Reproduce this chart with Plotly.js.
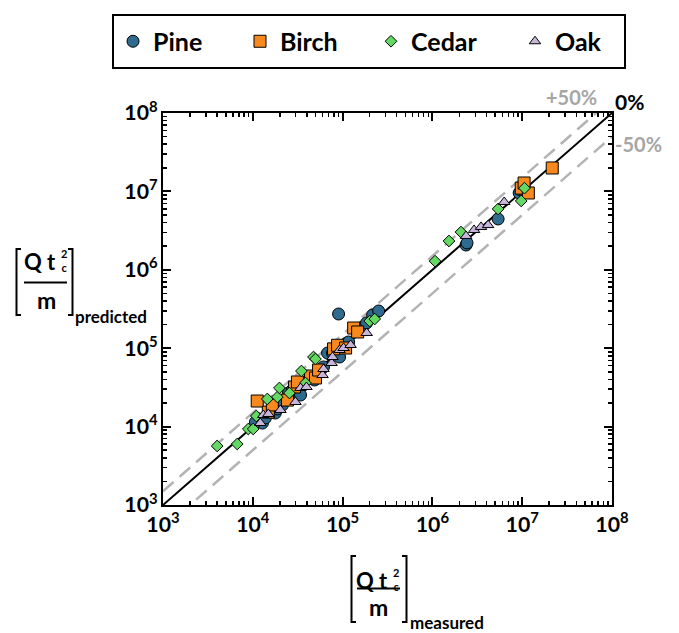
<!DOCTYPE html>
<html>
<head>
<meta charset="utf-8">
<script src="https://cdn.plot.ly/plotly-3.0.1.min.js"></script>
<style>html,body{margin:0;padding:0;background:#fff;}#chart{width:679px;height:633px;}</style>
</head>
<body>
<div id="chart"></div>
<script>
// ---- data (measured, predicted) ----
var seriesNames = ['Pine', 'Birch', 'Cedar', 'Oak'];

var pineMeasured = [11800, 12800, 13800, 10700, 17800, 18800, 20800, 21400, 24900, 26900, 27600, 34000, 48700, 52600, 56800, 61300, 68000, 77300, 87900, 92500, 110900, 116700, 167000, 185000, 216000, 252000, 90200, 2370000, 2430000, 5390000, 9250000, 9750000, 10500000];
var pinePredicted = [12500, 11100, 12900, 11450, 14900, 16800, 20600, 18900, 26800, 24600, 29300, 25300, 39300, 48300, 52700, 57600, 86800, 86800, 100600, 77200, 116400, 120000, 186000, 210000, 265000, 298000, 273000, 2070000, 2200000, 4450000, 9550000, 10400000, 11000000];

var birchMeasured = [11200, 14900, 16500, 24300, 29100, 31400, 43900, 49900, 54000, 79300, 87900, 108000, 132800, 147000, 9750000, 10500000, 11700000, 21600000];
var birchPredicted = [21200, 15300, 18900, 21800, 32000, 37100, 44200, 41700, 52700, 98000, 109000, 100600, 181000, 161000, 11000000, 12800000, 9550000, 19900000];

var cedarMeasured = [4010, 6710, 8910, 10100, 10950, 14500, 18800, 19800, 25600, 34800, 38600, 47400, 49900, 200400, 227800, 1070000, 1530000, 2080000, 5390000, 9750000, 10600000];
var cedarPredicted = [5660, 6000, 9320, 9320, 13650, 22500, 23870, 31100, 26800, 51200, 36000, 77200, 72800, 222000, 235700, 1290000, 2330000, 3030000, 5970000, 7550000, 11000000];

var oakMeasured = [12130, 13100, 14900, 20300, 29850, 34000, 39600, 59800, 61300, 75400, 77300, 92500, 102600, 122800, 185400, 2370000, 2910000, 3480000, 4170000, 6300000];
var oakPredicted = [11120, 14060, 14490, 16290, 20600, 31100, 32000, 45500, 54300, 64800, 77200, 94800, 100600, 109900, 156300, 2700000, 3220000, 3520000, 3720000, 7330000];

// reference lines: predicted = factor * measured
var refMeasured = [1e3, 1e8];
var refFactors = [1.5, 1.0, 0.5];
var refLabels = ['+50%', '0%', '-50%'];

var FONT = 'Lato, "Open Sans", sans-serif';
var colors = ['#2e6b8f', '#f7891e', '#63d863', '#c8b5dc'];
var symbols = ['circle', 'square', 'diamond', 'triangle-up'];
var sizes = [12, 12, 9, 10];

var L = 163, T = 113, W = 449, H = 392;
function px(x) { return (x - L) / W; }
function py(y) { return (T + H - y) / H; }

var traces = [];
refFactors.forEach(function (f, i) {
  traces.push({
    x: refMeasured,
    y: refMeasured.map(function (v) { return v * f; }),
    mode: 'lines',
    line: f === 1 ? {color: '#000', width: 2} : {color: '#b3b3b3', width: 2.5, dash: '14px,8px'},
    showlegend: false,
    hoverinfo: 'skip'
  });
});

var mx = [pineMeasured, birchMeasured, cedarMeasured, oakMeasured];
var my = [pinePredicted, birchPredicted, cedarPredicted, oakPredicted];
var legendIds = ['legend', 'legend2', 'legend3', 'legend4'];
var legendSymbolX = [135, 262, 393, 537];
seriesNames.forEach(function (n, i) {
  traces.push({
    x: mx[i], y: my[i], name: n, mode: 'markers', type: 'scatter',
    legend: legendIds[i],
    marker: {symbol: symbols[i], size: sizes[i], color: colors[i], line: {color: '#000', width: 1}}
  });
});

var ann = [];
function addText(text, x, y, size, color) {
  ann.push({text: text, xref: 'paper', yref: 'paper', x: px(x), y: py(y),
    xanchor: 'center', yanchor: 'middle', showarrow: false, borderpad: 0,
    font: {family: FONT, size: size, color: color || '#000', weight: 'bold'}});
}
// percent labels
addText(refLabels[0], 571, 97, 20, '#a6a6a6');
addText(refLabels[1], 629, 101, 21, '#000');
addText(refLabels[2], 638, 144, 20, '#a6a6a6');

// Y axis title pieces
addText('Q t', 40, 261, 22);
addText('2<br>c', 64, 260.5, 11);
addText('m', 46, 300, 23);
addText('predicted', 111, 316, 17);
// X axis title pieces
addText('Q t', 372, 580, 22);
addText('2<br>c', 396, 579.5, 11);
addText('m', 378, 607, 23);
addText('measured', 447, 622, 17);

var shapes = [];
function pathShape(d, w) {
  shapes.push({type: 'path', xref: 'paper', yref: 'paper', path: d, line: {color: '#000', width: w || 2}});
}
function P(x, y) { return px(x) + ',' + py(y); }
// legend frame
pathShape('M' + P(113, 15) + 'L' + P(625, 15) + 'L' + P(625, 68) + 'L' + P(113, 68) + 'Z', 2);
// y title brackets + fraction line
pathShape('M' + P(21, 249) + 'L' + P(16.5, 249) + 'L' + P(16.5, 315) + 'L' + P(21, 315));
pathShape('M' + P(68, 249) + 'L' + P(72.5, 249) + 'L' + P(72.5, 315) + 'L' + P(68, 315));
pathShape('M' + P(24, 282.5) + 'L' + P(67, 282.5));
// x title brackets + fraction line
pathShape('M' + P(356, 556) + 'L' + P(351.5, 556) + 'L' + P(351.5, 622) + 'L' + P(356, 622));
pathShape('M' + P(402, 556) + 'L' + P(406.5, 556) + 'L' + P(406.5, 622) + 'L' + P(402, 622));
pathShape('M' + P(357, 588.5) + 'L' + P(400, 588.5));

var axisCommon = {
  type: 'log', range: [3, 8], tickmode: 'linear', tick0: 0, dtick: 1,
  exponentformat: 'power', showexponent: 'all',
  ticks: 'inside', ticklen: 8, tickwidth: 2, tickcolor: '#000',
  minor: {dtick: 'D1', ticks: 'inside', ticklen: 4, tickwidth: 1.5, tickcolor: '#000', showgrid: false},
  showline: true, linecolor: '#000', linewidth: 2, mirror: 'ticks',
  showgrid: false, zeroline: false,
  tickfont: {family: FONT, size: 17, color: '#000', weight: 'bold'}
};

var layout = {
  width: 679, height: 633,
  margin: {l: L, r: 679 - L - W, t: T, b: 633 - T - H},
  paper_bgcolor: '#fff', plot_bgcolor: '#fff',
  xaxis: Object.assign({}, axisCommon),
  yaxis: Object.assign({}, axisCommon),
  showlegend: true,
  annotations: ann,
  shapes: shapes
};
legendIds.forEach(function (id, i) {
  layout[id] = {orientation: 'h', x: px(legendSymbolX[i] - 22), y: py(41.5),
    xanchor: 'left', yanchor: 'middle', borderwidth: 0, bgcolor: 'rgba(0,0,0,0)',
    font: {family: FONT, size: 25, color: '#000', weight: 'bold'}, itemwidth: 30};
});

Plotly.newPlot('chart', traces, layout, {displayModeBar: false, staticPlot: true});
</script>
</body>
</html>
